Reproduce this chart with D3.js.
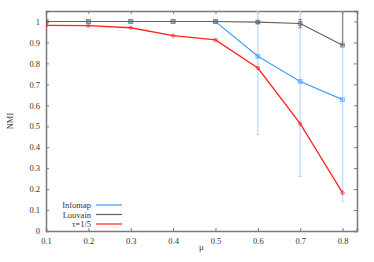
<!DOCTYPE html>
<html>
<head>
<meta charset="utf-8">
<script src="https://cdn.jsdelivr.net/npm/d3@7"></script>
<style>
  body { margin: 0; background: #fff; }
  text { font-family: "Liberation Serif", "DejaVu Serif", serif; fill: #333; }
</style>
</head>
<body>
<script>
// chart values
const mu = [0.1, 0.2, 0.3, 0.4, 0.5, 0.6, 0.7, 0.8];
const infomap = [1, 1, 1, 1, 1, 0.834, 0.714, 0.627];
const infomapLow = [1, 1, 1, 1, 0.995, 0.46, 0.26, 0.139];
const infomapHigh = [1, 1, 1, 1, 1.005, 1.2, 1.16, 1.12];
const louvain = [1, 1, 1, 1, 1, 0.997, 0.99, 0.887];
const louvainLow = [1, 1, 1, 1, 1, 0.99, 0.97, 0.887];
const louvainHigh = [1, 1, 1, 1, 1, 1.003, 1.01, 1.2];
const tau = [0.981, 0.98, 0.97, 0.932, 0.912, 0.778, 0.512, 0.182];
const xTicks = [0.1, 0.2, 0.3, 0.4, 0.5, 0.6, 0.7, 0.8];
const yTicks = [0, 0.1, 0.2, 0.3, 0.4, 0.5, 0.6, 0.7, 0.8, 0.9, 1];
const legendItems = ["Infomap", "Louvain", "τ=1/5"];

const width = 374, height = 262;
const margin = {top: 11, right: 17, bottom: 31, left: 46};
const serif = "'Liberation Serif', 'DejaVu Serif', serif";

const color = {
  "Infomap": "#3d9cff",
  "Louvain": "#665f5a",
  "τ=1/5": "#ff2222"
};
const errColor = {
  "Infomap": "#b9dcff",
  "Louvain": "#7f8ea8"
};

const svg = d3.select("body").append("svg")
  .attr("width", width)
  .attr("height", height);

const x = d3.scaleLinear().domain([0.1, 0.834]).range([margin.left, width - margin.right]);
const y = d3.scaleLinear().domain([0, 1.05]).range([height - margin.bottom, margin.top]);

svg.append("defs").append("clipPath").attr("id", "plot-clip")
  .append("rect")
  .attr("x", margin.left).attr("y", margin.top)
  .attr("width", x.range()[1] - margin.left)
  .attr("height", y.range()[0] - margin.top);

// axes, ticks pointing inward on all four sides
const axisColor = "#7a7a7a";
const axisBottomG = svg.append("g").attr("transform", `translate(0,${y.range()[0]})`)
  .call(d3.axisBottom(x).tickValues(xTicks).tickSize(-3).tickPadding(7).tickFormat(d3.format(".1f")));
const axisTopG = svg.append("g").attr("transform", `translate(0,${margin.top})`)
  .call(d3.axisTop(x).tickValues(xTicks).tickSize(-3).tickFormat(""));
const axisLeftG = svg.append("g").attr("transform", `translate(${margin.left},0)`)
  .call(d3.axisLeft(y).tickValues(yTicks).tickSize(-3).tickPadding(6).tickFormat(d => d === 0 || d === 1 ? d : d3.format(".1f")(d)));
const axisRightG = svg.append("g").attr("transform", `translate(${x.range()[1]},0)`)
  .call(d3.axisRight(y).tickValues(yTicks).tickSize(-3).tickFormat(""));

[axisBottomG, axisTopG, axisLeftG, axisRightG].forEach(g => {
  g.attr("font-family", serif).attr("font-size", 8.5);
  g.select(".domain").attr("stroke", axisColor).attr("stroke-width", 1.5);
  g.selectAll(".tick line").attr("stroke", axisColor);
  g.selectAll(".tick text").attr("fill", "#333");
});

const plot = svg.append("g").attr("clip-path", "url(#plot-clip)");

// error bars
function errorBars(name, low, high) {
  const g = plot.append("g");
  mu.forEach((m, i) => {
    if (high[i] - low[i] < 0.001) return;
    g.append("line")
      .attr("x1", x(m)).attr("x2", x(m))
      .attr("y1", y(low[i])).attr("y2", y(high[i]))
      .attr("stroke", errColor[name]).attr("stroke-width", 1.3);
    [low[i], high[i]].forEach(v => {
      g.append("line")
        .attr("x1", x(m) - 2).attr("x2", x(m) + 2)
        .attr("y1", y(v)).attr("y2", y(v))
        .attr("stroke", errColor[name]).attr("stroke-width", 1);
    });
  });
}
errorBars("Infomap", infomapLow, infomapHigh);
errorBars("Louvain", louvainLow, louvainHigh);

const line = d3.line().x((d, i) => x(mu[i])).y(d => y(d));

function series(name, values, square) {
  plot.append("path")
    .datum(values)
    .attr("d", line)
    .attr("fill", "none")
    .attr("stroke", color[name])
    .attr("stroke-width", name === "τ=1/5" ? 1.3 : 1.1);
  plot.selectAll(null)
    .data(values)
    .enter()
    .append(square ? "rect" : "circle")
    .each(function(d, i) {
      const s = d3.select(this);
      if (square) {
        s.attr("x", x(mu[i]) - 2).attr("y", y(d) - 2).attr("width", 4).attr("height", 4);
      } else {
        s.attr("cx", x(mu[i])).attr("cy", y(d)).attr("r", 1.8);
      }
    })
    .attr("fill", color[name]).attr("fill-opacity", 0.35)
    .attr("stroke", color[name]).attr("stroke-opacity", 0.6).attr("stroke-width", 0.8);
}
series("Infomap", infomap, true);
series("Louvain", louvain, true);
series("τ=1/5", tau, false);

// legend
const legend = svg.append("g")
  .selectAll("g.legend")
  .data(legendItems)
  .enter()
  .append("g")
  .attr("class", "legend")
  .attr("transform", (d, i) => `translate(0, ${205 + i * 9.5})`);

legend.append("text")
  .attr("x", 91).attr("y", 3)
  .attr("text-anchor", "end")
  .style("font-size", "8.5px")
  .text(d => d);

legend.append("line")
  .attr("x1", 96).attr("x2", 122)
  .attr("y1", 0).attr("y2", 0)
  .attr("stroke", d => color[d])
  .attr("stroke-width", 1.2);

// axis titles
svg.append("text")
  .attr("x", (margin.left + x.range()[1]) / 2).attr("y", 250)
  .attr("text-anchor", "middle")
  .style("font-size", "9px")
  .text("μ");

svg.append("text")
  .attr("transform", `translate(13, ${(margin.top + y.range()[0]) / 2}) rotate(-90)`)
  .attr("text-anchor", "middle")
  .style("font-size", "8.5px")
  .text("NMI");
</script>
</body>
</html>
